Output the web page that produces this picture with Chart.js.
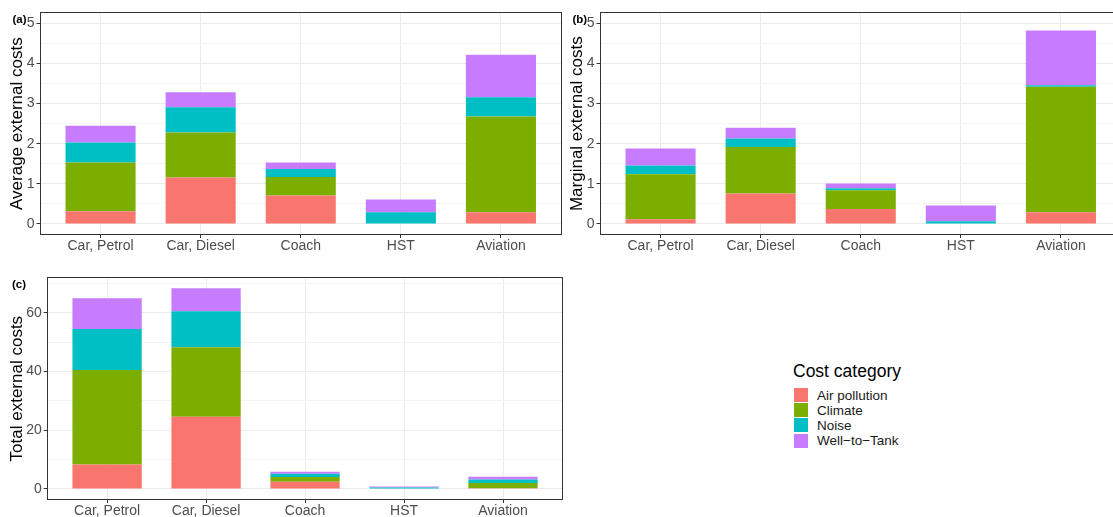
<!DOCTYPE html>
<html>
<head>
<meta charset="utf-8">
<script src="https://cdn.jsdelivr.net/npm/chart.js@4/dist/chart.umd.min.js"></script>
<style>
    html, body {
        margin: 0;
        padding: 0;
        background: #fff;
        overflow: hidden;
    }
    #wrap {
        position: relative;
        width: 1113px;
        height: 517px;
        overflow: hidden;
        background: #fff;
        font-family: 'Liberation Sans', Arial, sans-serif;
    }
    #wrap canvas {
        position: absolute;
    }
    .tag {
        position: absolute;
        font-size: 11.5px;
        font-weight: bold;
        line-height: 12px;
        color: #000;
    }
    #legend {
        position: absolute;
        left: 793px;
        top: 361px;
    }
    #legend .title {
        font-size: 17.5px;
        line-height: 20px;
        color: #000;
        margin-bottom: 7px;
    }
    #legend .row {
        display: flex;
        align-items: center;
        height: 14px;
        margin-bottom: 1.2px;
    }
    #legend .key {
        width: 14px;
        height: 14px;
        margin-left: 1px;
        margin-right: 9px;
    }
    #legend .label {
        font-size: 13.5px;
        color: #1a1a1a;
    }
</style>
</head>
<body>
<div id="wrap">
    <canvas id="chartA" width="575" height="262" style="left:0;top:0"></canvas>
    <canvas id="chartB" width="575" height="262" style="left:560px;top:0"></canvas>
    <canvas id="chartC" width="575" height="262" style="left:0;top:265px"></canvas>
    <div class="tag" style="left:12.5px;top:13px">(a)</div>
    <div class="tag" style="left:572.5px;top:13px">(b)</div>
    <div class="tag" style="left:12px;top:278px">(c)</div>
    <div id="legend"></div>
</div>
<script>
// Categories and series
const categories = ['Car, Petrol', 'Car, Diesel', 'Coach', 'HST', 'Aviation'];
const costCategories = ['Air pollution', 'Climate', 'Noise', 'Well-to-Tank'];
const costColors = ['#F8766D', '#7CAE00', '#00BFC4', '#C77CFF'];

// (a) Average external costs
const avgAir = [0.32, 1.16, 0.71, 0, 0.29];
const avgClimate = [1.21, 1.12, 0.46, 0, 2.39];
const avgNoise = [0.50, 0.63, 0.20, 0.29, 0.48];
const avgWtt = [0.42, 0.37, 0.16, 0.32, 1.06];

// (b) Marginal external costs
const margAir = [0.12, 0.76, 0.37, 0, 0.29];
const margClimate = [1.12, 1.16, 0.47, 0, 3.13];
const margNoise = [0.22, 0.21, 0.05, 0.07, 0.04];
const margWtt = [0.42, 0.27, 0.12, 0.39, 1.36];

// (c) Total external costs
const totAir = [8.3, 24.6, 2.5, 0, 0.25];
const totClimate = [32.3, 23.7, 1.6, 0, 1.8];
const totNoise = [13.9, 12.3, 1.1, 0.5, 1.15];
const totWtt = [10.5, 7.8, 0.7, 0.3, 1.0];

// Tick labels
const yTicksAB = [0, 1, 2, 3, 4, 5];
const yMinorAB = [0.5, 1.5, 2.5, 3.5, 4.5];
const yTicksC = [0, 20, 40, 60];
const yMinorC = [10, 30, 50, 70];

const FONT = "'Liberation Sans', Arial, sans-serif";

// Draw the panel border (theme_bw style)
const panelFrame = {
    id: 'panelFrame',
    afterDraw(chart) {
        const { ctx, chartArea: a } = chart;
        ctx.save();
        ctx.strokeStyle = '#333333';
        ctx.lineWidth = 1;
        const l = Math.round(a.left) - 0.5;
        const t = Math.round(a.top) - 0.5;
        ctx.strokeRect(l, t, Math.round(a.right) - Math.round(a.left) + 1, Math.round(a.bottom) - Math.round(a.top) + 1);
        ctx.restore();
    }
};

function makePanel(id, series, yRange, major, minor, yTitle, yWidth, padRight) {
    const datasets = series.map((values, k) => ({
        label: costCategories[k],
        data: values.map((v, i) => ({ x: i, y: v })),
        backgroundColor: costColors[k],
        borderWidth: 0,
        barPercentage: 0.7,
        categoryPercentage: 1.0
    }));
    const isMajor = v => major.includes(v);

    new Chart(document.getElementById(id), {
        type: 'bar',
        data: { datasets: datasets },
        plugins: [panelFrame],
        options: {
            responsive: false,
            animation: false,
            layout: { padding: { left: 0, right: padRight, top: 13.3, bottom: 0 } },
            plugins: {
                legend: { display: false },
                tooltip: { enabled: false }
            },
            scales: {
                x: {
                    type: 'linear',
                    stacked: true,
                    offset: false,
                    min: -0.6,
                    max: categories.length - 0.4,
                    afterBuildTicks: scale => {
                        scale.ticks = categories.map((c, i) => ({ value: i }));
                    },
                    afterFit: scale => { scale.height = 28; },
                    border: { display: false },
                    grid: {
                        offset: false,
                        color: '#EBEBEB',
                        lineWidth: 1,
                        tickColor: '#333333',
                        tickLength: 4
                    },
                    ticks: {
                        autoSkip: false,
                        maxRotation: 0,
                        padding: 0,
                        color: '#4D4D4D',
                        font: { family: FONT, size: 14 },
                        callback: value => categories[value]
                    }
                },
                y: {
                    type: 'linear',
                    stacked: true,
                    min: yRange[0],
                    max: yRange[1],
                    afterBuildTicks: scale => {
                        scale.ticks = major.concat(minor).sort((p, q) => p - q).map(v => ({ value: v }));
                    },
                    afterFit: scale => { scale.width = yWidth; },
                    border: { display: false },
                    grid: {
                        color: ctx => isMajor(ctx.tick.value) ? '#EBEBEB' : '#F4F4F4',
                        lineWidth: 1,
                        tickColor: ctx => isMajor(ctx.tick.value) ? '#333333' : 'rgba(0,0,0,0)',
                        tickLength: 4
                    },
                    ticks: {
                        autoSkip: false,
                        padding: 2,
                        color: '#4D4D4D',
                        font: { family: FONT, size: 14 },
                        callback: value => isMajor(value) ? String(value) : ''
                    },
                    title: {
                        display: true,
                        text: yTitle,
                        color: '#000',
                        padding: { top: 7.5, bottom: 0 },
                        font: { family: FONT, size: 17 }
                    }
                }
            }
        }
    });
}

// ggplot-like 5% expansion of the y range
function expandRange(lo, hi) {
    const pad = (hi - lo) * 0.05;
    return [lo - pad, hi + pad];
}

function initializeCharts() {
    makePanel('chartA', [avgAir, avgClimate, avgNoise, avgWtt], expandRange(0, 5),
        yTicksAB, yMinorAB, 'Average external costs', 40.5, 14);
    makePanel('chartB', [margAir, margClimate, margNoise, margWtt], expandRange(0, 5),
        yTicksAB, yMinorAB, 'Marginal external costs', 40.5, 14);

    const totals = categories.map((c, i) => totAir[i] + totClimate[i] + totNoise[i] + totWtt[i]);
    makePanel('chartC', [totAir, totClimate, totNoise, totWtt], expandRange(0, Math.max(...totals)),
        yTicksC, yMinorC, 'Total external costs', 47.7, 12.6);
}

// Legend as plain HTML
function initializeLegend() {
    const legend = document.getElementById('legend');
    let html = '<div class="title">Cost category</div>';
    costCategories.forEach((name, k) => {
        html += '<div class="row"><div class="key" style="background:' + costColors[k] + '"></div>' +
                '<div class="label">' + name.replace(/-/g, '\u2212') + '</div></div>';
    });
    legend.innerHTML = html;
}

initializeCharts();
initializeLegend();
</script>
</body>
</html>
